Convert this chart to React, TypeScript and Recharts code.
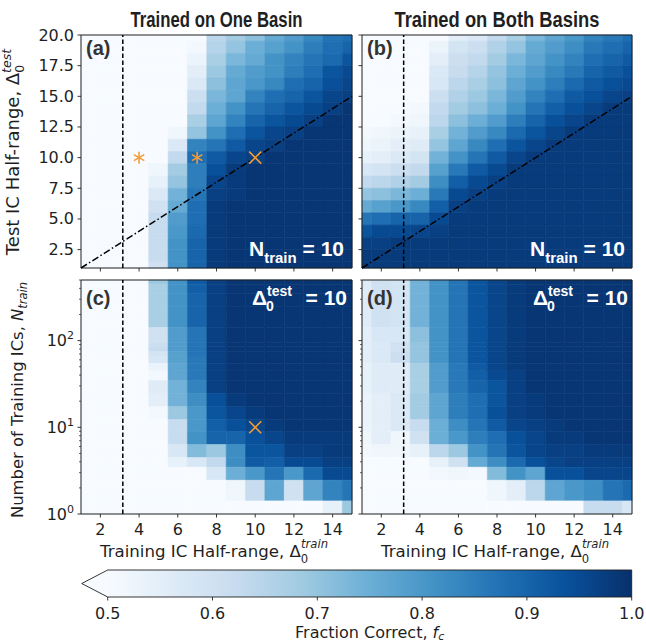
import React from 'react';
import { ScatterChart, Scatter, XAxis, YAxis, ReferenceArea, ReferenceLine } from 'recharts';

// x: training IC half-range, y: test IC half-range or number of training ICs
const trainHalfRange = [1, 2, 3, 4, 5, 6, 7, 8, 9, 10, 11, 12, 13, 14, 15];
const testHalfRange = [20, 19, 18, 17, 16, 15, 14, 13, 12, 11, 10, 9, 8, 7, 6, 5, 4, 3, 2, 1];
const trainCounts = [500, 400, 300, 200, 100, 90, 80, 70, 60, 50, 40, 30, 20, 15, 10, 8, 5, 4, 3, 2, 1];

const xTicks = [2, 4, 6, 8, 10, 12, 14];
const testTicks = [2.5, 5, 7.5, 10, 12.5, 15, 17.5, 20];
const countMajor = [1, 10, 100];
const countMinor = [2, 3, 4, 5, 6, 7, 8, 9, 20, 30, 40, 50, 60, 70, 80, 90, 200, 300, 400, 500];
const colorbarTicks = [0.5, 0.6, 0.7, 0.8, 0.9, 1.0];

const criticalHalfRange = 3.16;

// fraction correct, rows follow testHalfRange (top to bottom), columns follow trainHalfRange
const oneBasinTest = [
  [.5, .5, .5, .5, .5, .5, .5, .64, .68, .71, .76, .79, .83, .87, .88],
  [.5, .5, .5, .5, .5, .5, .51, .65, .7, .75, .78, .81, .85, .88, .9],
  [.5, .5, .5, .5, .5, .5, .53, .67, .73, .76, .81, .84, .87, .89, .93],
  [.5, .5, .5, .5, .5, .5, .55, .69, .76, .79, .81, .85, .88, .93, .95],
  [.5, .5, .5, .5, .5, .5, .57, .71, .77, .8, .83, .88, .9, .94, .96],
  [.5, .5, .5, .5, .5, .5, .61, .73, .77, .84, .88, .9, .93, .96, .97],
  [.5, .5, .5, .5, .5, .5, .63, .75, .81, .87, .9, .93, .95, .97, .99],
  [.5, .5, .5, .5, .5, .5, .67, .77, .84, .9, .93, .95, .97, .99, .99],
  [.5, .5, .5, .5, .5, .52, .7, .81, .88, .93, .96, .97, .99, .99, .99],
  [.5, .5, .5, .5, .5, .57, .84, .87, .92, .96, .97, .99, .99, .99, .99],
  [.5, .5, .5, .5, .5, .63, .88, .92, .96, .97, .99, .99, .99, .99, .99],
  [.5, .5, .5, .5, .52, .68, .85, .94, .98, .99, .99, .99, .99, .99, .99],
  [.5, .5, .5, .5, .54, .7, .85, .96, .98, .99, .99, .99, .99, .99, .99],
  [.5, .5, .5, .5, .57, .74, .87, .97, .98, .99, .99, .99, .99, .99, .99],
  [.5, .5, .5, .5, .6, .76, .88, .98, .99, .99, .99, .99, .99, .99, .99],
  [.5, .5, .5, .5, .62, .79, .88, .98, .99, .99, .99, .99, .99, .99, .99],
  [.5, .5, .5, .5, .62, .8, .89, .98, .99, .99, .99, .99, .99, .99, .99],
  [.5, .5, .5, .5, .62, .81, .9, .98, .99, .99, .99, .99, .99, .99, .99],
  [.5, .5, .5, .5, .62, .81, .9, .98, .99, .99, .99, .99, .99, .99, .99],
  [.5, .5, .5, .5, .6, .81, .9, .98, .99, .99, .99, .99, .99, .99, .99],
];

const bothBasinsTest = [
  [.5, .5, .5, .5, .5, .55, .57, .63, .67, .73, .77, .8, .84, .86, .88],
  [.5, .5, .5, .5, .53, .59, .61, .66, .7, .76, .79, .82, .86, .88, .9],
  [.5, .5, .5, .5, .55, .61, .63, .68, .73, .77, .81, .84, .88, .9, .92],
  [.5, .5, .5, .5, .57, .62, .65, .7, .75, .79, .83, .86, .9, .92, .94],
  [.5, .5, .5, .5, .58, .64, .67, .71, .77, .81, .85, .89, .92, .94, .95],
  [.5, .5, .5, .5, .61, .66, .69, .73, .79, .84, .88, .92, .94, .96, .97],
  [.5, .5, .5, .51, .63, .68, .71, .75, .81, .87, .91, .94, .96, .98, .98],
  [.5, .5, .51, .52, .64, .71, .75, .79, .85, .9, .94, .96, .98, .98, .98],
  [.51, .52, .53, .54, .67, .74, .79, .83, .89, .93, .96, .98, .98, .98, .98],
  [.52, .53, .55, .56, .7, .77, .83, .88, .93, .96, .98, .98, .98, .98, .98],
  [.54, .55, .57, .59, .74, .81, .87, .92, .96, .98, .98, .98, .98, .98, .98],
  [.58, .59, .61, .63, .78, .86, .92, .95, .98, .98, .98, .98, .98, .98, .98],
  [.63, .64, .66, .68, .82, .91, .95, .97, .98, .98, .98, .98, .98, .98, .98],
  [.7, .71, .73, .75, .86, .95, .97, .98, .98, .98, .98, .98, .98, .98, .98],
  [.76, .78, .8, .83, .91, .97, .98, .98, .98, .98, .98, .98, .98, .98, .98],
  [.87, .88, .9, .9, .95, .98, .98, .98, .98, .98, .98, .98, .98, .98, .98],
  [.93, .95, .95, .96, .97, .98, .98, .98, .98, .98, .98, .98, .98, .98, .98],
  [.97, .97, .98, .98, .98, .98, .98, .98, .98, .98, .98, .98, .98, .98, .98],
  [.98, .98, .98, .98, .98, .98, .98, .98, .98, .98, .98, .98, .98, .98, .98],
  [.98, .98, .98, .98, .98, .98, .98, .98, .98, .98, .98, .98, .98, .98, .98],
];

// rows follow trainCounts (top to bottom)
const oneBasinCount = [
  [.5, .5, .5, .5, .69, .81, .92, .97, .99, .99, .99, .99, .99, .99, .99],
  [.5, .5, .5, .5, .67, .81, .91, .97, .99, .99, .99, .99, .99, .99, .99],
  [.5, .5, .5, .5, .67, .81, .9, .97, .99, .99, .99, .99, .99, .99, .99],
  [.5, .5, .5, .5, .67, .81, .9, .97, .99, .99, .99, .99, .99, .99, .99],
  [.5, .5, .5, .5, .6, .79, .87, .97, .99, .99, .99, .99, .99, .99, .99],
  [.5, .5, .5, .5, .61, .79, .87, .97, .99, .99, .99, .99, .99, .99, .99],
  [.5, .5, .5, .5, .62, .79, .87, .97, .99, .99, .99, .99, .99, .99, .99],
  [.5, .5, .5, .5, .59, .78, .87, .97, .99, .99, .99, .99, .99, .99, .99],
  [.5, .5, .5, .5, .58, .78, .86, .97, .99, .99, .99, .99, .99, .99, .99],
  [.5, .5, .5, .5, .53, .77, .86, .97, .99, .99, .99, .99, .99, .99, .99],
  [.5, .5, .5, .5, .51, .77, .86, .97, .99, .99, .99, .99, .99, .99, .99],
  [.5, .5, .5, .5, .56, .74, .84, .97, .99, .99, .99, .99, .99, .99, .99],
  [.5, .5, .5, .5, .55, .74, .82, .94, .98, .99, .99, .99, .99, .99, .99],
  [.5, .5, .5, .5, .51, .69, .8, .93, .96, .98, .99, .99, .99, .99, .99],
  [.5, .5, .5, .5, .5, .62, .8, .91, .94, .96, .98, .99, .99, .99, .99],
  [.5, .5, .5, .5, .5, .62, .81, .9, .9, .94, .96, .98, .98, .98, .98],
  [.5, .5, .5, .5, .5, .58, .72, .69, .82, .93, .93, .97, .97, .98, .98],
  [.5, .5, .5, .5, .5, .54, .58, .63, .82, .92, .91, .95, .95, .97, .97],
  [.5, .5, .5, .5, .5, .5, .5, .58, .75, .8, .87, .8, .89, .95, .95],
  [.5, .5, .5, .5, .5, .5, .5, .5, .52, .62, .77, .6, .77, .84, .87],
  [.5, .5, .5, .5, .5, .5, .5, .5, .5, .5, .5, .5, .5, .54, .69],
];

const bothBasinsCount = [
  [.56, .6, .59, .74, .81, .87, .93, .96, .98, .99, .99, .99, .99, .99, .99],
  [.56, .6, .59, .74, .81, .87, .93, .96, .98, .99, .99, .99, .99, .99, .99],
  [.56, .6, .59, .74, .81, .87, .93, .96, .98, .99, .99, .99, .99, .99, .99],
  [.56, .6, .59, .74, .81, .87, .93, .96, .98, .99, .99, .99, .99, .99, .99],
  [.55, .58, .58, .71, .81, .87, .93, .96, .98, .99, .99, .99, .99, .99, .99],
  [.55, .57, .6, .7, .81, .87, .93, .96, .98, .99, .99, .99, .99, .99, .99],
  [.55, .57, .6, .7, .81, .87, .93, .96, .98, .99, .99, .99, .99, .99, .99],
  [.55, .57, .61, .7, .81, .87, .93, .96, .98, .99, .99, .99, .99, .99, .99],
  [.55, .57, .61, .7, .81, .87, .93, .96, .98, .99, .99, .99, .99, .99, .99],
  [.54, .56, .56, .67, .79, .86, .92, .96, .98, .99, .99, .99, .99, .99, .99],
  [.54, .56, .56, .67, .79, .86, .91, .95, .97, .99, .99, .99, .99, .99, .99],
  [.54, .56, .56, .67, .79, .86, .9, .93, .97, .99, .99, .99, .99, .99, .99],
  [.53, .55, .57, .68, .77, .85, .88, .93, .97, .98, .99, .99, .99, .99, .99],
  [.53, .55, .57, .68, .77, .85, .88, .94, .97, .98, .99, .99, .99, .99, .99],
  [.53, .55, .57, .62, .75, .82, .87, .92, .96, .97, .98, .99, .99, .99, .99],
  [.52, .55, .52, .6, .75, .8, .85, .88, .94, .96, .98, .98, .99, .99, .99],
  [.51, .52, .52, .54, .64, .69, .81, .87, .93, .96, .97, .97, .98, .98, .98],
  [.5, .5, .5, .5, .54, .6, .76, .82, .89, .94, .96, .97, .97, .97, .97],
  [.5, .5, .5, .5, .51, .52, .51, .72, .81, .77, .94, .94, .96, .96, .96],
  [.5, .5, .5, .5, .5, .5, .5, .52, .55, .64, .77, .8, .82, .87, .89],
  [.5, .5, .5, .5, .5, .5, .5, .5, .5, .5, .5, .5, .62, .62, .58],
];

const oneBasinTestMarkers = [
  { x: 4, y: 10, kind: 'star' },
  { x: 7, y: 10, kind: 'star' },
  { x: 10, y: 10, kind: 'cross' },
];
const oneBasinCountMarkers = [{ x: 10, y: 10, kind: 'cross' }];

const BLUES = ['#f7fbff', '#deebf7', '#c6dbef', '#9ecae1', '#6baed6', '#4292c6', '#2171b5', '#08519c', '#08306b'];
const INK = '#1f1f1f';
const ORANGE = '#f59d36';
const TICK_FONT = 'DejaVu Sans, sans-serif';
const BOLD_FONT = 'Liberation Sans, Arial, sans-serif';
const TICK_SIZE = 16;

function hex(c: string) {
  return [1, 3, 5].map((i) => parseInt(c.slice(i, i + 2), 16));
}

function blues(v: number) {
  const t = Math.min(1, Math.max(0, (v - 0.5) / 0.5)) * 8;
  const i = Math.min(7, Math.floor(t));
  const f = t - i;
  const a = hex(BLUES[i]);
  const b = hex(BLUES[i + 1]);
  const m = a.map((x, k) => Math.round(x + (b[k] - x) * f));
  return `rgb(${m[0]},${m[1]},${m[2]})`;
}

function rowEdges(values: number[], r: number, log: boolean, lo: number, hi: number) {
  const v = values[r];
  const above = values[r - 1];
  const below = values[r + 1];
  let top: number;
  let bottom: number;
  if (log) {
    top = above !== undefined ? Math.sqrt(v * above) : v * Math.sqrt(v / below);
    bottom = below !== undefined ? Math.sqrt(v * below) : v * Math.sqrt(v / above);
  } else {
    top = v + 0.5;
    bottom = v - 0.5;
  }
  return [Math.max(bottom, lo), Math.min(top, hi)];
}

function Marker(props: any) {
  const { cx, cy, payload } = props;
  if (cx == null || cy == null) return null;
  const r = 6;
  if (payload.kind === 'cross') {
    return (
      <g stroke={ORANGE} strokeWidth={1.6}>
        <line x1={cx - r} y1={cy - r} x2={cx + r} y2={cy + r} />
        <line x1={cx - r} y1={cy + r} x2={cx + r} y2={cy - r} />
      </g>
    );
  }
  const arms = [90, 30, 150].map((deg) => {
    const a = (deg * Math.PI) / 180;
    return (
      <line key={deg} x1={cx - r * Math.cos(a)} y1={cy - r * Math.sin(a)} x2={cx + r * Math.cos(a)} y2={cy + r * Math.sin(a)} />
    );
  });
  return <g stroke={ORANGE} strokeWidth={1.6}>{arms}</g>;
}

const M = 10;
const YW = 50;
const XH = 26;

type PanelProps = {
  left: number;
  top: number;
  width: number;
  height: number;
  grid: number[][];
  rows: number[];
  log?: boolean;
  yLabels?: boolean;
  xLabels?: boolean;
  markers?: { x: number; y: number; kind: string }[];
  diagonal?: boolean;
};

function HeatPanel({ left, top, width, height, grid, rows, log, yLabels, xLabels, markers, diagonal }: PanelProps) {
  const yDomain = log ? [1, 500] : [1, 20];
  const xLo = trainHalfRange[0];
  const xHi = trainHalfRange[trainHalfRange.length - 1];

  const cells = grid.flatMap((row, r) => {
    const [y1, y2] = rowEdges(rows, r, !!log, yDomain[0], yDomain[1]);
    return row.map((v, c) => {
      const x = trainHalfRange[c];
      const fill = blues(v);
      return (
        <ReferenceArea
          key={`c-${r}-${c}`}
          x1={Math.max(x - 0.5, xLo)}
          x2={Math.min(x + 0.5, xHi)}
          y1={y1}
          y2={y2}
          fill={fill}
          fillOpacity={1}
          stroke={fill}
          strokeWidth={0.6}
          ifOverflow="visible"
        />
      );
    });
  });

  const yTicks = log ? [...countMajor, ...countMinor] : testTicks;

  const renderYTick = (p: any) => {
    const v = p.payload.value;
    const major = log ? countMajor.includes(v) : true;
    const len = major ? 3.5 : 2;
    let label: React.ReactNode = null;
    if (yLabels && major) {
      label = log ? (
        <text x={p.x - 7} y={p.y + 5.5} textAnchor="end" fontSize={TICK_SIZE} fontFamily={TICK_FONT} fill={INK}>
          10<tspan dy={-7} fontSize={11}>{Math.round(Math.log10(v))}</tspan>
        </text>
      ) : (
        <text x={p.x - 7} y={p.y + 5.5} textAnchor="end" fontSize={TICK_SIZE} fontFamily={TICK_FONT} fill={INK}>
          {v.toFixed(1)}
        </text>
      );
    }
    return (
      <g>
        <line x1={p.x} x2={p.x - len} y1={p.y} y2={p.y} stroke={INK} strokeWidth={major ? 0.9 : 0.7} />
        {label}
      </g>
    );
  };

  const renderXTick = (p: any) => (
    <g>
      <line x1={p.x} x2={p.x} y1={p.y} y2={p.y + 3.5} stroke={INK} strokeWidth={0.9} />
      {xLabels ? (
        <text x={p.x} y={p.y + 21} textAnchor="middle" fontSize={TICK_SIZE} fontFamily={TICK_FONT} fill={INK}>
          {p.payload.value}
        </text>
      ) : null}
    </g>
  );

  return (
    <div style={{ position: 'absolute', left: left - M - YW, top: top - M }}>
      <ScatterChart
        width={width + 2 * M + YW}
        height={height + 2 * M + XH}
        margin={{ top: M, right: M, bottom: M, left: M }}
      >
        <XAxis
          type="number"
          dataKey="x"
          domain={[xLo, xHi]}
          allowDataOverflow
          ticks={xTicks}
          interval={0}
          height={XH}
          tickSize={0}
          tickMargin={0}
          tickLine={false}
          axisLine={false}
          tick={renderXTick}
        />
        <YAxis
          type="number"
          dataKey="y"
          scale={log ? 'log' : 'linear'}
          domain={yDomain}
          allowDataOverflow
          ticks={yTicks}
          interval={0}
          width={YW}
          tickSize={0}
          tickMargin={0}
          tickLine={false}
          axisLine={false}
          tick={renderYTick}
        />
        {cells}
        {diagonal ? (
          <ReferenceLine
            segment={[{ x: 1, y: 1 }, { x: 15, y: 15 }]}
            stroke="#000"
            strokeWidth={1.5}
            strokeDasharray="7 2.5 1.5 2.5"
            ifOverflow="visible"
          />
        ) : null}
        <ReferenceLine x={criticalHalfRange} stroke="#000" strokeWidth={1.5} strokeDasharray="4.5 2.5" />
        <ReferenceArea
          x1={xLo}
          x2={xHi}
          y1={yDomain[0]}
          y2={yDomain[1]}
          fill="none"
          stroke={INK}
          strokeWidth={1}
          ifOverflow="visible"
        />
        <Scatter data={markers ?? []} isAnimationActive={false} shape={Marker} />
      </ScatterChart>
    </div>
  );
}

function Colorbar() {
  const renderTick = (p: any) => (
    <g>
      <line x1={p.x} x2={p.x} y1={p.y} y2={p.y + 3.5} stroke={INK} strokeWidth={0.9} />
      <text x={p.x} y={p.y + 22} textAnchor="middle" fontSize={TICK_SIZE} fontFamily={TICK_FONT} fill={INK}>
        {p.payload.value.toFixed(1)}
      </text>
    </g>
  );
  return (
    <div style={{ position: 'absolute', left: 80, top: 566 }}>
      <ScatterChart width={580} height={62} margin={{ top: 4, right: 28.3, bottom: 0, left: 27.7 }}>
        <XAxis
          type="number"
          dataKey="x"
          domain={[0.5, 1]}
          allowDataOverflow
          ticks={colorbarTicks}
          interval={0}
          height={31}
          tickSize={0}
          tickMargin={0}
          tickLine={false}
          axisLine={false}
          tick={renderTick}
        />
        <YAxis type="number" dataKey="y" domain={[0, 1]} allowDataOverflow width={0} tick={false} tickLine={false} axisLine={false} />
        <ReferenceArea x1={0.5} x2={1} y1={0} y2={1} fill="url(#bluesGradient)" fillOpacity={1} stroke="none" ifOverflow="visible" />
        <Scatter data={[]} isAnimationActive={false} />
      </ScatterChart>
    </div>
  );
}

export default function App() {
  return (
    <div style={{ position: 'absolute', left: 0, top: 0, width: 646, height: 642, background: '#fff', overflow: 'hidden' }}>
      <HeatPanel left={81} top={35} width={271} height={233} grid={oneBasinTest} rows={testHalfRange} yLabels markers={oneBasinTestMarkers} diagonal />
      <HeatPanel left={362} top={35} width={270} height={233} grid={bothBasinsTest} rows={testHalfRange} diagonal />
      <HeatPanel left={81} top={280} width={271} height={234} grid={oneBasinCount} rows={trainCounts} log yLabels xLabels markers={oneBasinCountMarkers} />
      <HeatPanel left={362} top={280} width={270} height={234} grid={bothBasinsCount} rows={trainCounts} log xLabels />
      <Colorbar />

      <svg width={646} height={642} style={{ position: 'absolute', left: 0, top: 0, pointerEvents: 'none' }}>
        <defs>
          <linearGradient id="bluesGradient" x1="0" x2="1" y1="0" y2="0">
            {BLUES.map((c, i) => (
              <stop key={c} offset={i / (BLUES.length - 1)} stopColor={c} />
            ))}
          </linearGradient>
        </defs>

        <text x={216.5} y={27} textAnchor="middle" fontSize={22} fontWeight="bold" fontFamily={BOLD_FONT} fill={INK} textLength={172} lengthAdjust="spacingAndGlyphs">
          Trained on One Basin
        </text>
        <text x={497} y={27} textAnchor="middle" fontSize={22} fontWeight="bold" fontFamily={BOLD_FONT} fill={INK} textLength={205} lengthAdjust="spacingAndGlyphs">
          Trained on Both Basins
        </text>

        <text x={86} y={55} fontSize={20} fontWeight="bold" fontFamily={BOLD_FONT} fill="#333">(a)</text>
        <text x={367} y={55} fontSize={20} fontWeight="bold" fontFamily={BOLD_FONT} fill="#333">(b)</text>
        <text x={86} y={305} fontSize={20} fontWeight="bold" fontFamily={BOLD_FONT} fill="#333">(c)</text>
        <text x={367} y={305} fontSize={20} fontWeight="bold" fontFamily={BOLD_FONT} fill="#333">(d)</text>

        {[344, 625].map((x) => (
          <text key={x} x={x} y={256} textAnchor="end" fontSize={21} fontWeight="bold" fontFamily={BOLD_FONT} fill="#fff">
            N<tspan dy={7} fontSize={15}>train</tspan>
            <tspan dy={-7}> = 10</tspan>
          </text>
        ))}
        {[252, 533].map((x) => (
          <g key={x} fill="#fff" fontWeight="bold" fontFamily={BOLD_FONT}>
            <text x={x} y={305} fontSize={21}>Δ</text>
            <text x={x + 14} y={311} fontSize={14}>0</text>
            <text x={x + 15} y={296} fontSize={14}>test</text>
            <text x={x + 95} y={305} fontSize={21} textAnchor="end">= 10</text>
          </g>
        ))}

        <text transform="translate(19,152) rotate(-90)" textAnchor="middle" fontSize={18} fontFamily={TICK_FONT} fill={INK}>
          Test IC Half-range, Δ<tspan dy={5} fontSize={12.5}>0</tspan>
          <tspan dx={-8} dy={-13} fontSize={12.5} fontStyle="italic">test</tspan>
        </text>
        <text transform="translate(23,400) rotate(-90)" textAnchor="middle" fontSize={16.4} fontFamily={TICK_FONT} fill={INK}>
          Number of Training ICs, <tspan fontStyle="italic">N</tspan>
          <tspan dy={4} fontSize={11.5} fontStyle="italic">train</tspan>
        </text>

        {[100, 381].map((x) => (
          <text key={x} x={x} y={557} fontSize={16.6} fontFamily={TICK_FONT} fill={INK}>
            Training IC Half-range, Δ<tspan dy={5.5} fontSize={11.6}>0</tspan>
            <tspan dx={-7.2} dy={-14.5} fontSize={11.6} fontStyle="italic">train</tspan>
          </text>
        ))}

        <polygon points="107.7,570 81.7,583.5 107.7,597" fill={BLUES[0]} />
        <polyline points="107.7,570 631.7,570 631.7,597 107.7,597 81.7,583.5 107.7,570" fill="none" stroke={INK} strokeWidth={0.9} />
        <text x={369.7} y={638} textAnchor="middle" fontSize={16} fontFamily={TICK_FONT} fill={INK}>
          Fraction Correct, <tspan fontStyle="italic">f</tspan>
          <tspan dy={1.5} fontSize={11} fontStyle="italic">c</tspan>
        </text>
      </svg>
    </div>
  );
}
